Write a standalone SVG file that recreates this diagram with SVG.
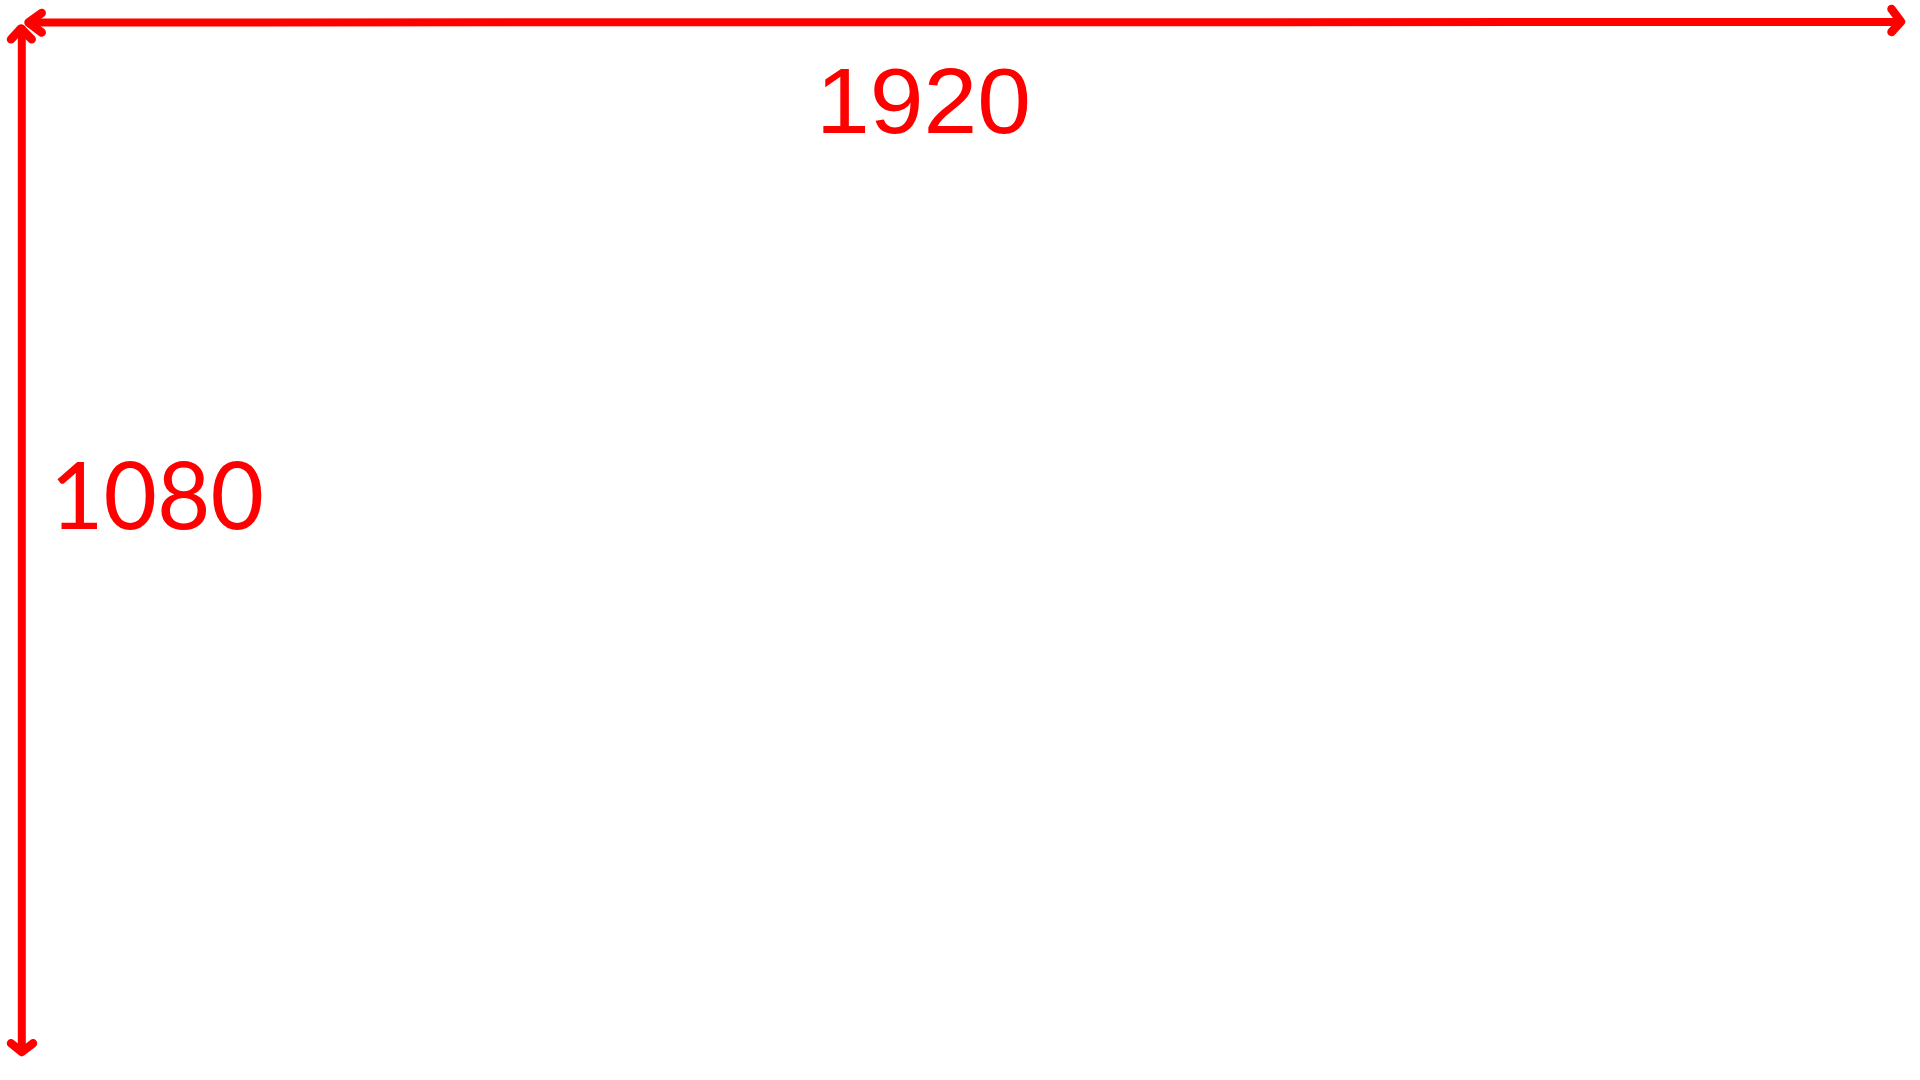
<svg xmlns="http://www.w3.org/2000/svg" width="1920" height="1080" viewBox="0 0 1920 1080">
<style>
.dim{stroke:#ff0000;stroke-width:8;fill:none;stroke-linecap:round;stroke-linejoin:round}
.head{stroke:#ff0000;stroke-width:8.5;fill:none;stroke-linecap:round;stroke-linejoin:round}
.lbl{fill:#ff0000}
</style>
<rect width="1920" height="1080" fill="#ffffff"/>
<g id="connectors">
<g id="width-arrow">
<line class="dim" x1="29" y1="22.5" x2="1900" y2="22"/>
<path class="head" d="M41.7,13 L28.5,22.5 L41.7,32.5"/>
<path class="head" d="M1891.5,9 L1901,21.7 L1891.5,32"/>
</g>
<g id="height-arrow">
<line class="dim" x1="21.8" y1="29" x2="21.8" y2="1051"/>
<path class="head" d="M11,39.3 L21,28.5 L31.7,39.3"/>
<path class="head" d="M11,1043.3 L21.8,1052 L33,1043.3"/>
</g>
</g>
<g id="label-width">
<text class="lbl" x="816" y="133" font-family="'Liberation Sans', Arial, sans-serif" font-size="92" textLength="215" lengthAdjust="spacingAndGlyphs">1920</text>
</g>
<g id="label-height">
<text class="lbl" x="50" y="529" font-family="Lato, 'Liberation Sans', sans-serif" font-size="93" textLength="214" lengthAdjust="spacingAndGlyphs">1080</text>
</g>
</svg>
